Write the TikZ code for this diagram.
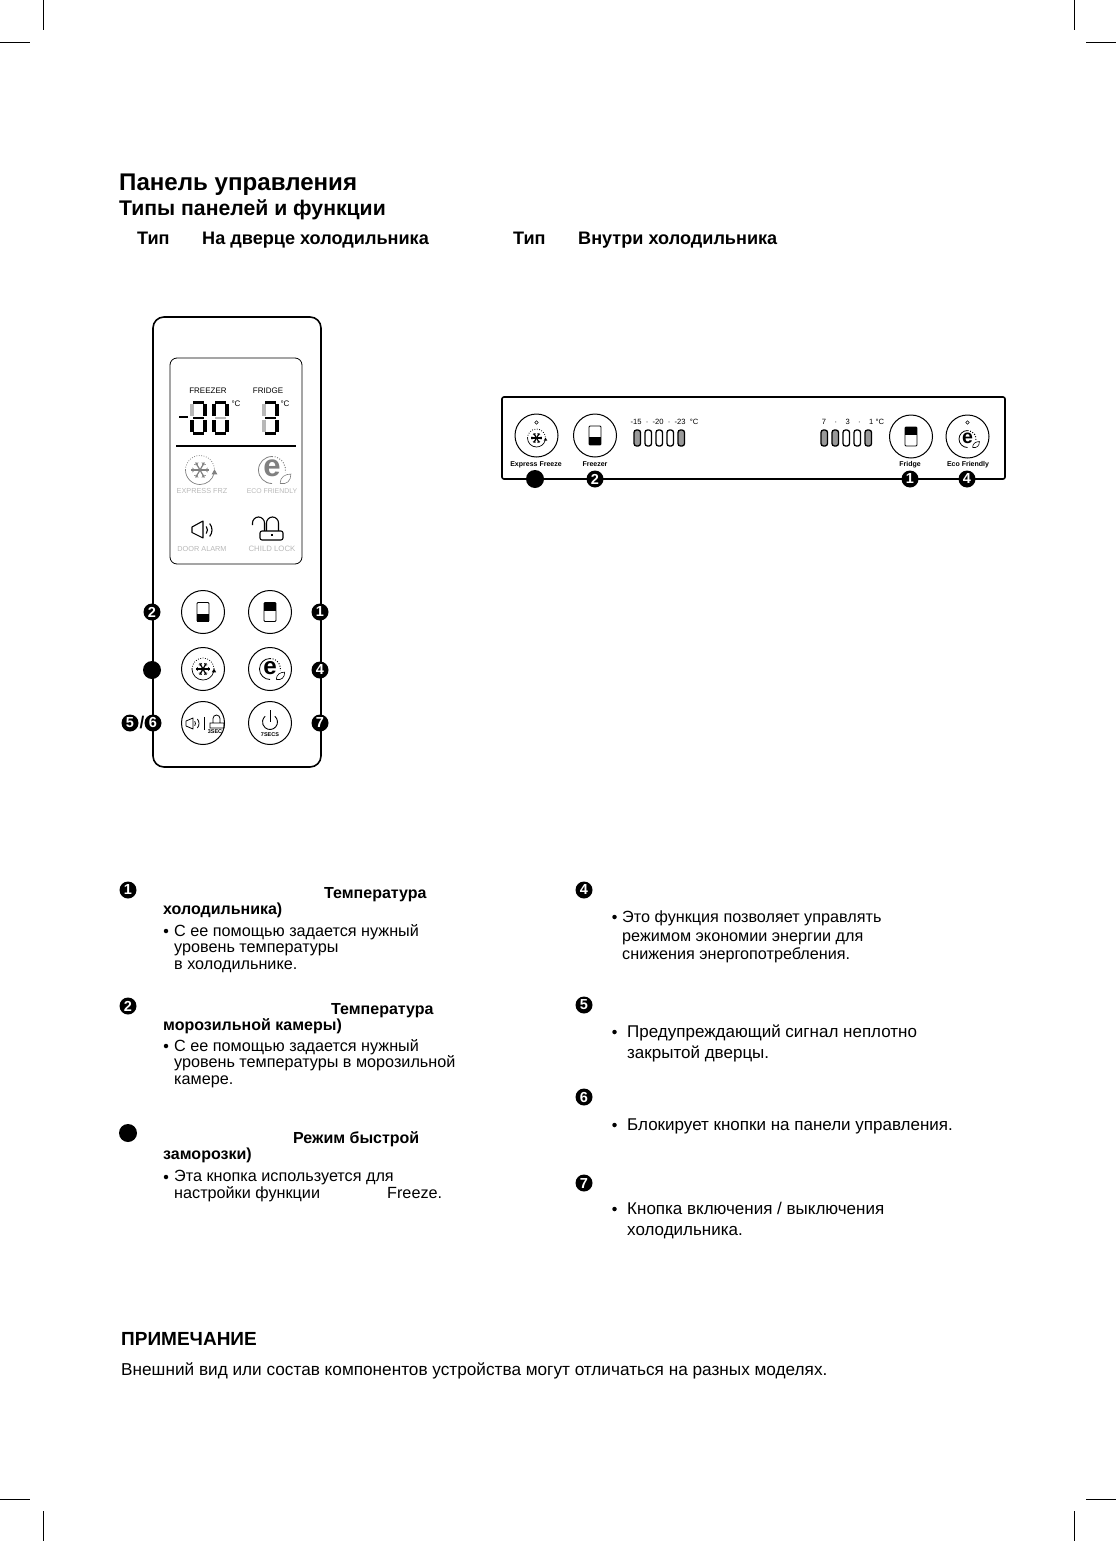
\documentclass[tikz,border=0pt]{standalone}
\usepackage{fontspec}
\setmainfont{Liberation Sans}
\usepackage{xcolor}
\usetikzlibrary{positioning}
\definecolor{segoff}{gray}{0.72}
\definecolor{iconoff}{gray}{0.72}
\definecolor{icongrey}{gray}{0.5}
\definecolor{ledgrey}{gray}{0.6}
\tikzset{
num/.style={circle,fill=black,text=white,inner sep=0pt,minimum size=17pt,font=\fontsize{14.5}{14}\selectfont\bfseries},
blank/.style={circle,fill=black,inner sep=0pt,minimum size=18pt},
head/.style={anchor=base west,inner sep=0pt,font=\fontsize{18.1}{20}\selectfont\bfseries},
item/.style={anchor=base west,inner sep=0pt,font=\fontsize{16}{17}\selectfont\bfseries},
body/.style={anchor=north west,inner sep=0pt,align=left,font=\fontsize{16.2}{16.5}\selectfont},
bodyr/.style={anchor=north west,inner sep=0pt,align=left,font=\fontsize{16.2}{18.5}\selectfont},
bodyb/.style={anchor=north west,inner sep=0pt,align=left,font=\fontsize{17}{20.8}\selectfont},
bull/.style={circle,fill=black,inner sep=0pt,minimum size=4.5pt},
small/.style={inner sep=0pt,font=\fontsize{8}{8}\selectfont},
panlbl/.style={inner sep=0pt,font=\fontsize{7}{8}\selectfont\bfseries},
faint/.style={inner sep=0pt,text=iconoff,font=\fontsize{7.3}{8}\selectfont},
btn/.style={circle,draw,line width=1pt,minimum size=43pt,inner sep=0pt},
}
% seven segment digit: left top corner, colours of upper left, middle, lower left
\newcommand{\segdigit}[5]{%
\begin{scope}[shift={(#1,#2)}]
\draw[line width=2.6pt](3,1.3)--(14,1.3)(3,32.7)--(14,32.7);
\draw[line width=2.6pt,#4](3,17)--(14,17);
\draw[line width=3.8pt](15.2,3.2)--(15.2,15)(15.2,19)--(15.2,30.8);
\draw[line width=3.8pt,#3](1.8,3.2)--(1.8,15);
\draw[line width=3.8pt,#5](1.8,19)--(1.8,30.8);
\end{scope}}
% door sliders of the freezer and fridge buttons
\newcommand{\doorbox}[3]{%
\draw[line width=.9pt,rounded corners=1pt](#1-6,#2-9.5)rectangle(#1+6,#2+9.5);
\fill(#1-6,#2+#3)rectangle(#1+6,#2+#3+8);}
\newcommand{\flake}[3]{%
\begin{scope}[shift={(#1,#2)},scale=#3]
\foreach \a in {0,60,120}{
\draw[line width=1.2pt](\a:-6)--(\a:6);
\draw[line width=.6pt](\a:4)+(\a+50:2)--(\a:4)--+(\a-50:2);
\draw[line width=.6pt](\a:-4)+(\a+130:2)--(\a:-4)--+(\a-130:2);}
\draw[line width=.8pt,dash pattern=on .8pt off 1.6pt](0,0)+(-180:10)arc(-180:0:10);
\draw[line width=.7pt](0,0)+(180:10)arc(180:15:10);
\fill(8,3)--(12,3)--(10,-.5)--cycle;
\end{scope}}
\newcommand{\ecoicon}[3]{%
\begin{scope}[shift={(#1,#2)},scale=#3]
\draw[line width=.8pt](0,0)+(-90:10)arc(-90:-270:10);
\draw[line width=1pt,dash pattern=on 1pt off 1.6pt](0,0)+(-90:10)arc(-90:10:10);
\node[inner sep=0pt,transform shape,font=\fontsize{23}{23}\selectfont\bfseries] (ecoe) at (0,-1){e};
\draw[line width=.6pt,fill=white](6,10)..controls (6,5) and (10,3)..(14,3)..controls (14,8) and (11,11)..(6,10);
\end{scope}}
\newcommand{\leds}[3]{%
\foreach \i/\c in {#3}{
\draw[fill=\c,line width=1.3pt,rounded corners=2.5pt](#1+\i*11,#2)rectangle(#1+\i*11+6.5,#2+16);}}
\begin{document}
\begin{tikzpicture}[x=1pt,y=-1pt]
\useasboundingbox(0,0)rectangle(1116,1541);
% crop marks
\draw[line width=1pt](0,43)--(30,43)(43,0)--(43,30)(1086,43)--(1116,43)(1074,0)--(1074,30)
(0,1499)--(30,1499)(43,1511)--(43,1541)(1086,1499)--(1116,1499)(1074,1511)--(1074,1541);
% titles
\node[anchor=base west,inner sep=0pt,font=\fontsize{24.1}{24}\selectfont\bfseries] (title) at (119,191){Панель управления};
\node[anchor=base west,inner sep=0pt,font=\fontsize{21.2}{22}\selectfont\bfseries] (subtitle) at (119,215){Типы панелей и функции};
\node[head] (typea) at (137,244){Тип};
\node[head] (typeadesc) at (202,244){На дверце холодильника};
\node[head] (typeb) at (513,244){Тип};
\node[head] (typebdesc) at (578,244){Внутри холодильника};
% door panel
\draw[line width=1.6pt,rounded corners=11pt](153,317)rectangle(321,767);
\draw[line width=.8pt,rounded corners=7pt](170,358)rectangle(302,564);
\node[small] (freezer) at (208,391){FREEZER};
\node[small] (fridge) at (268,391){FRIDGE};
\draw[line width=2.6pt](179,417)--(188,417);
\segdigit{190}{401}{segoff}{black}{black}
\segdigit{212}{401}{black}{segoff}{black}
\segdigit{262}{401}{segoff}{black}{segoff}
\node[small] (cdega) at (236,404){°C};
\node[small] (cdegb) at (285,404){°C};
\draw[line width=1.6pt](176,446)--(296,446);
\begin{scope}[icongrey]
\flake{200}{470}{1.45}
\ecoicon{272}{470}{1.35}
\end{scope}
\node[faint] (expressfrz) at (202,491){EXPRESS FRZ};
\node[faint,font=\fontsize{6.9}{8}\selectfont] (ecofriendly) at (272,491){ECO FRIENDLY};
% speaker
\draw[line width=1.1pt,line join=round](192,527)--(192,532.5)--(203,538)--(203,521)--cycle;
\draw[line width=1.1pt](202,530)+(-40:5.5)arc(-40:40:5.5)(202,530)+(-40:10)arc(-40:40:10);
% open lock
\draw[line width=1.1pt](252.5,525)--(252.5,523)arc(-180:0:6)--(264.5,531)(266.5,531)--(266.5,523)arc(-180:0:6)--(278.5,531);
\draw[line width=1.1pt,fill=white,rounded corners=2pt](260,531)rectangle(283,540);
\fill(270.5,533.5)rectangle(272.5,536);
\node[faint] (dooralarm) at (202,549){DOOR ALARM};
\node[faint,font=\fontsize{7.8}{8}\selectfont] (childlock) at (272,549){CHILD LOCK};
% door buttons
\node[btn] (btnfreezer) at (203,612){};
\node[btn] (btnfridge) at (270,612){};
\node[btn] (btnexpress) at (203,669){};
\node[btn] (btneco) at (270,669){};
\node[btn] (btnalarm) at (203,723){};
\node[btn] (btnpower) at (270,723){};
\doorbox{203}{612}{1.5}
\doorbox{270}{612}{-9.5}
\flake{203}{669}{1.1}
\ecoicon{270}{669}{1.05}
% alarm and lock button icons
\draw[line width=.8pt,line join=round](186,721)--(186,726)--(193,729)--(193,718)--cycle;
\draw[line width=.8pt](192,723.5)+(-40:3.5)arc(-40:40:3.5)(192,723.5)+(-40:7)arc(-40:40:7);
\draw[line width=.8pt](204,717)--(204,730);
\draw[line width=.8pt](210,723)rectangle(224,728)(213,723)--(213,718.5)arc(-180:0:3.5)--(220,723);
\node[inner sep=0pt,font=\fontsize{5.5}{6}\selectfont\bfseries] (alarmsec) at (215,732){3SEC};
\draw[line width=.9pt](270,710)--(270,722);
\draw[line width=.9pt](270,722)+(-50:7.5)arc(-50:230:7.5);
\node[inner sep=0pt,font=\fontsize{5.5}{6}\selectfont\bfseries] (powersec) at (270,735){7SECS};
% door numbers
\node[num] (doortwo) at (152,612){2};
\node[num] (doorone) at (320,612){1};
\node[blank] (doorthree) at (152,670){};
\node[num] (doorfour) at (320,670){4};
\node[num] (doorfive) at (130,723){5};
\node[inner sep=0pt,font=\fontsize{17}{17}\selectfont\bfseries] (doorslash) at (142,723){/};
\node[num] (doorsix) at (153,723){6};
\node[num] (doorseven) at (320,723){7};
% inner panel
\draw[line width=1.6pt,rounded corners=2pt](502,397)rectangle(1005,479);
\node[btn] (panexpress) at (536.5,435.5){};
\node[btn] (panfreezer) at (595,435.5){};
\node[btn] (panfridge) at (911,436.5){};
\node[btn] (paneco) at (967.5,436.5){};
\draw[line width=.6pt](536.5,422.5)circle(1.7);
\draw[line width=.6pt](967.5,422.5)circle(1.7);
\flake{536.5}{438}{.9}
\doorbox{595}{435.5}{1.5}
\doorbox{911}{436.5}{-9.5}
\ecoicon{967.5}{439}{.85}
\node[panlbl] (lblexpress) at (536,464.5){Express Freeze};
\node[panlbl] (lblfreezer) at (595,464.5){Freezer};
\node[panlbl] (lblfridge) at (910,464.5){Fridge};
\node[panlbl] (lbleco) at (968,464.5){Eco Friendly};
\node[small,font=\fontsize{7.6}{8}\selectfont] (scalea) at (664.5,422){-15\ \ ·\ \ -20\ \ ·\ \ -23\ \ °C};
\node[small,font=\fontsize{7.6}{8}\selectfont] (scaleb) at (853,422){7\ \ \ \ ·\ \ \ \ 3\ \ \ \ ·\ \ \ \ 1\ °C};
\leds{634}{430}{0/ledgrey,1/white,2/white,3/white,4/ledgrey}
\leds{821}{430}{0/ledgrey,1/ledgrey,2/white,3/white,4/ledgrey}
\node[blank] (panthree) at (535,479){};
\node[num] (pantwo) at (595,479){2};
\node[num] (panone) at (910,479){1};
\node[num] (panfour) at (967,479){4};
% left column
\node[num] (itemone) at (128,890){1};
\node[item] (itemonea) at (324,898){Температура};
\node[item] (itemoneb) at (163,914){холодильника)};
\node[bull] (bulla) at (166,931){};
\node[body] (itemonec) at (174,924){С ее помощью задается нужный\\уровень температуры\\в холодильнике.};
\node[num] (itemtwo) at (128,1006){2};
\node[item] (itemtwoa) at (331,1014){Температура};
\node[item] (itemtwob) at (163,1030){морозильной камеры)};
\node[bull] (bullb) at (166,1046){};
\node[body] (itemtwoc) at (174,1039){С ее помощью задается нужный\\уровень температуры в морозильной\\камере.};
\node[blank] (itemthree) at (128,1133){};
\node[item] (itemthreea) at (293,1143){Режим быстрой};
\node[item] (itemthreeb) at (163,1159){заморозки)};
\node[bull] (bullc) at (166,1177){};
\node[body] (itemthreec) at (174,1170){Эта кнопка используется для\\настройки функции};
\node[anchor=base west,inner sep=0pt,font=\fontsize{16.2}{17}\selectfont] (itemthreed) at (387,1198){Freeze.};
% right column
\node[num] (itemfour) at (584,890){4};
\node[bull] (bulld) at (614.5,917){};
\node[bodyr] (itemfourc) at (622,911){Это функция позволяет управлять\\режимом экономии энергии для\\снижения энергопотребления.};
\node[num] (itemfive) at (584,1005){5};
\node[bull] (bulle) at (614.5,1032){};
\node[bodyb] (itemfivec) at (627,1025){Предупреждающий сигнал неплотно\\закрытой дверцы.};
\node[num] (itemsix) at (584,1097){6};
\node[bull] (bullf) at (614.5,1125){};
\node[bodyb] (itemsixc) at (627,1118.5){Блокирует кнопки на панели управления.};
\node[num] (itemseven) at (584,1183){7};
\node[bull] (bullg) at (614.5,1209){};
\node[bodyb] (itemsevenc) at (627,1202){Кнопка включения / выключения\\холодильника.};
% note
\node[anchor=base west,inner sep=0pt,font=\fontsize{19}{20}\selectfont\bfseries] (notehead) at (121,1345){ПРИМЕЧАНИЕ};
\node[anchor=base west,inner sep=0pt,font=\fontsize{17.2}{20}\selectfont] (notetext) at (121,1375){Внешний вид или состав компонентов устройства могут отличаться на разных моделях.};
\end{tikzpicture}
\end{document}
